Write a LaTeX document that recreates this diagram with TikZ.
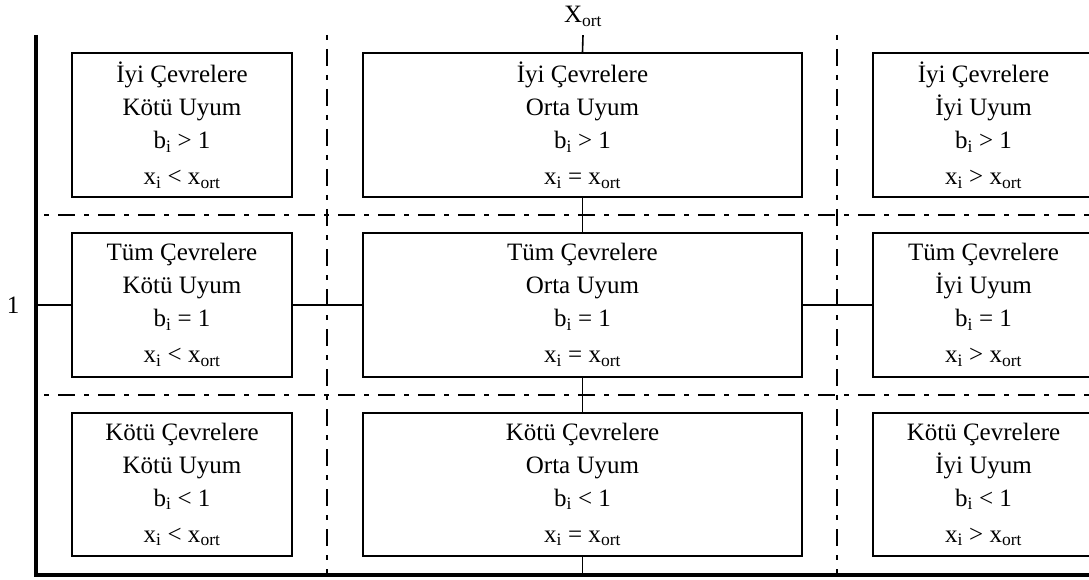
\documentclass[tikz,border=0pt]{standalone}
\usepackage{fontspec}
\setmainfont{Liberation Serif}
\newcommand{\sbs}[1]{\textsubscript{#1}}
\newcommand{\bigtext}{\fontsize{25pt}{33pt}\selectfont}
\begin{document}
\begin{tikzpicture}[x=1pt,y=-1pt,
  cell/.style={draw, line width=2pt, minimum height=144pt, align=center, inner sep=0pt, font=\bigtext},
  narrow/.style={minimum width=220pt},
  wide/.style={minimum width=439pt},
  lbl/.style={anchor=base, inner sep=0pt, font=\bigtext},
  axis/.style={line width=4.5pt},
  conn/.style={line width=1.6pt},
  grid/.style={line width=2.2pt, dash pattern=on 17pt off 9pt on 5pt off 9pt, dash phase=26pt}
]
\useasboundingbox (0,0) rectangle (1089,580);

% grid lines
\draw[grid] (327,35) -- (327,573);
\draw[grid] (837,35) -- (837,573);
\draw[grid] (44,215) -- (1089,215);
\draw[grid] (44,395) -- (1089,395);

% boxes
\node[cell,narrow,fill=white] (tl) at (182,125) {İyi Çevrelere\\Kötü Uyum\\b\sbs{i} > 1\\[3pt]x\sbs{i} < x\sbs{ort}};
\node[cell,wide,fill=white] (tm) at (582.5,125) {İyi Çevrelere\\Orta Uyum\\b\sbs{i} > 1\\[3pt]x\sbs{i} = x\sbs{ort}};
\node[cell,narrow,fill=white,minimum width=221pt] (tr) at (983.5,125) {İyi Çevrelere\\İyi Uyum\\b\sbs{i} > 1\\[3pt]x\sbs{i} > x\sbs{ort}};

\node[cell,narrow,fill=white] (ml) at (182,305) {Tüm Çevrelere\\Kötü Uyum\\b\sbs{i} = 1\\[3pt]x\sbs{i} < x\sbs{ort}};
\node[cell,wide,fill=white] (mm) at (582.5,305) {Tüm Çevrelere\\Orta Uyum\\b\sbs{i} = 1\\[3pt]x\sbs{i} = x\sbs{ort}};
\node[cell,narrow,fill=white,minimum width=221pt] (mr) at (983.5,305) {Tüm Çevrelere\\İyi Uyum\\b\sbs{i} = 1\\[3pt]x\sbs{i} > x\sbs{ort}};

\node[cell,narrow,fill=white,minimum height=143pt] (bl) at (182,484.5) {Kötü Çevrelere\\Kötü Uyum\\b\sbs{i} < 1\\[3pt]x\sbs{i} < x\sbs{ort}};
\node[cell,wide,fill=white,minimum height=143pt] (bm) at (582.5,484.5) {Kötü Çevrelere\\Orta Uyum\\b\sbs{i} < 1\\[3pt]x\sbs{i} = x\sbs{ort}};
\node[cell,narrow,fill=white,minimum width=221pt,minimum height=143pt] (br) at (983.5,484.5) {Kötü Çevrelere\\İyi Uyum\\b\sbs{i} < 1\\[3pt]x\sbs{i} > x\sbs{ort}};

% labels
\node[lbl] (xort) at (583,23) {X\sbs{ort}};
\node[lbl] (one) at (13,313) {1};

% axes
\coordinate (ax) at (36,305);
\coordinate (ab) at (582.5,575);
\draw[axis] (36,35) -- (36,575) -- (1089,575);

% connectors
\draw[conn] ([yshift=-8pt]xort.south) -- (tm.north);
\draw[conn] (tm.south) -- (mm.north);
\draw[conn] (mm.south) -- (bm.north);
\draw[conn] (bm.south) -- (ab);
\draw[conn] (ax) -- (ml.west);
\draw[conn] (ml.east) -- (mm.west);
\draw[conn] (mm.east) -- (mr.west);
\end{tikzpicture}
\end{document}
